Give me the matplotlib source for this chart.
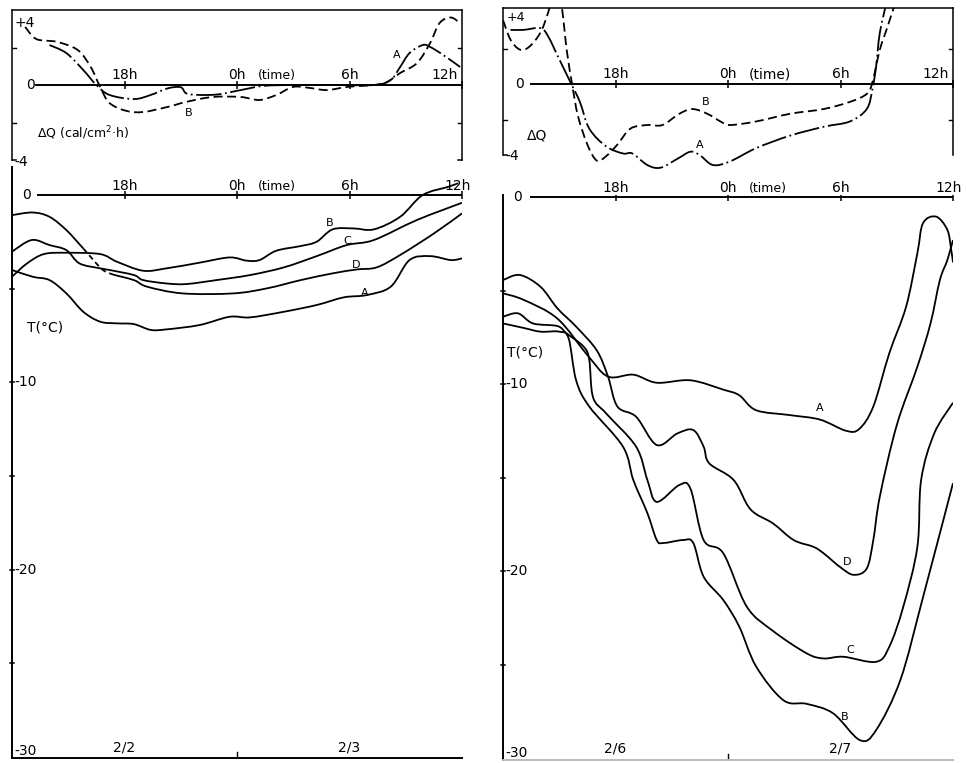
import matplotlib
matplotlib.use("Agg")
import matplotlib.pyplot as plt
from matplotlib.path import Path
from matplotlib.patches import PathPatch
import numpy as np

plt.rcParams['font.family'] = ['DejaVu Sans']

W, H = 967, 763
# ---------------- data (time in hours from 12h of first day, 24h later = 36) -------------
# Upper left: heat balance dQ (cal/cm2 h), 2/2-2/3
ql_A_t = [14.0, 14.9, 15.8, 16.5, 17.2, 18.5, 19.4, 20.3, 21.0, 21.3, 22.0, 23.0, 24.2, 25.4, 27.0, 29.0, 31.3, 32.2, 32.7, 33.2, 33.9, 34.3, 35.0, 35.9]
ql_A_q = [2.13, 1.7, 0.8, 0.0, -0.53, -0.75, -0.53, -0.18, -0.12, -0.45, -0.53, -0.5, -0.27, -0.05, 0.0, 0.0, 0.0, 0.27, 0.96, 1.7, 2.13, 2.03, 1.6, 0.96]
ql_B_t = [12.7, 13.3, 14.4, 15.5, 16.2, 16.7, 17.2, 18.1, 19.0, 20.3, 21.3, 22.7, 24.2, 25.2, 26.1, 27.0, 27.9, 28.8, 29.9, 31.3, 32.0, 32.7, 33.6, 34.3, 34.8, 35.4, 35.9]
ql_B_q = [3.1, 2.45, 2.3, 1.87, 0.96, -0.1, -0.96, -1.38, -1.44, -1.17, -0.9, -0.64, -0.64, -0.8, -0.53, -0.1, -0.16, -0.27, -0.1, 0.0, 0.16, 0.64, 1.17, 2.24, 3.3, 3.6, 3.3]

# Upper right: dQ, 2/6-2/7
qr_A_t = [12.4, 13.1, 14.0, 14.4, 15.0, 15.6, 16.1, 16.6, 17.5, 18.4, 18.9, 19.7, 20.4, 21.3, 22.0, 22.5, 23.2, 24.1, 25.5, 27.3, 29.1, 30.5, 31.4, 31.7, 31.9, 32.1, 32.5]
qr_A_q = [3.05, 3.05, 3.15, 2.7, 1.4, 0.1, -1.0, -2.5, -3.5, -3.9, -3.9, -4.55, -4.7, -4.2, -3.8, -4.0, -4.55, -4.35, -3.6, -2.9, -2.4, -2.1, -1.4, -0.3, 1.0, 2.9, 4.8]
qr_B_t = [12.0, 12.4, 12.9, 13.4, 14.0, 14.4, 14.7, 15.1, 15.4, 15.7, 16.0, 16.5, 17.0, 17.5, 18.1, 18.8, 19.7, 20.5, 21.4, 22.1, 22.9, 23.6, 24.1, 25.5, 27.3, 29.1, 30.5, 31.4, 31.7, 32.1, 32.5, 32.9]
qr_B_q = [3.6, 2.5, 1.94, 2.1, 2.9, 4.0, 5.0, 4.5, 1.9, -0.1, -1.8, -3.4, -4.3, -4.05, -3.4, -2.5, -2.3, -2.3, -1.67, -1.4, -1.67, -2.1, -2.3, -2.1, -1.67, -1.4, -1.0, -0.55, 0.1, 1.94, 3.2, 4.5]

# Lower left: temperatures T (deg C), 2/2-2/3
tl_t_A = [12.0, 13.1, 14.0, 14.9, 15.8, 16.7, 17.6, 18.5, 19.4, 20.25, 22.0, 23.6, 24.7, 26.5, 28.25, 29.7, 30.9, 32.2, 33.2, 34.3, 35.4, 36.0]
tl_A = [-4.0, -4.36, -4.54, -5.25, -6.23, -6.76, -6.85, -6.89, -7.2, -7.17, -6.94, -6.5, -6.53, -6.23, -5.87, -5.46, -5.34, -4.89, -3.47, -3.26, -3.47, -3.38]
tl_t_B = [12.0, 12.8, 13.7, 14.9, 16.7, 17.6, 19.0, 20.25, 22.0, 23.6, 24.5, 25.2, 26.1, 27.4, 28.25, 29.1, 30.2, 31.3, 32.7, 33.9, 35.3, 35.8]
tl_B = [-4.36, -3.65, -3.15, -3.08, -3.15, -3.56, -4.04, -3.91, -3.61, -3.33, -3.5, -3.47, -2.97, -2.72, -2.49, -1.83, -1.78, -1.83, -1.16, 0.0, 0.45, 0.64]
tl_t_C = [12.0, 13.05, 14.0, 14.9, 15.6, 16.7, 17.2, 18.5, 19.0, 20.25, 21.3, 22.9, 24.7, 26.5, 28.25, 29.85, 31.3, 33.6, 36.0]
tl_C = [-3.02, -2.4, -2.67, -2.94, -3.65, -3.91, -4.0, -4.27, -4.54, -4.72, -4.75, -4.54, -4.27, -3.86, -3.26, -2.67, -2.4, -1.33, -0.41]
tl_t_D = [12.0, 13.1, 14.0, 14.9, 15.8, 16.7, 17.2, 18.5, 19.2, 21.1, 23.8, 25.6, 27.4, 29.1, 30.4, 31.45, 32.7, 34.5, 36.0]
tl_D = [-1.07, -0.93, -1.16, -1.87, -2.85, -3.86, -4.18, -4.54, -4.89, -5.25, -5.25, -4.98, -4.54, -4.18, -3.97, -3.86, -3.2, -2.05, -0.98]

# Lower right: temperatures T (deg C), 2/6-2/7
tr_t_A = [12.0, 13.1, 14.9, 16.5, 17.6, 18.95, 20.2, 22.0, 23.75, 24.6, 25.5, 27.3, 28.9, 30.3, 31.0, 31.75, 32.6, 33.5, 34.1, 34.4, 35.1, 35.7, 35.9, 36.0]
tr_A = [-5.15, -5.5, -6.5, -8.45, -9.6, -9.5, -9.93, -9.8, -10.3, -10.6, -11.4, -11.66, -11.9, -12.5, -12.4, -11.2, -8.36, -5.86, -3.0, -1.4, -1.05, -1.76, -2.8, -3.5]
tr_t_B = [12.0, 13.1, 14.0, 15.0, 15.5, 15.9, 16.6, 18.4, 18.95, 19.7, 20.2, 20.55, 21.6, 22.15, 22.7, 23.75, 24.6, 25.5, 26.95, 28.2, 29.6, 31.04, 31.9, 33.2, 34.4, 36.0]
tr_B = [-6.76, -7.0, -7.2, -7.2, -7.56, -9.8, -11.2, -13.35, -15.13, -16.9, -18.34, -18.5, -18.34, -18.5, -20.3, -21.55, -22.97, -25.1, -26.9, -27.1, -27.6, -29.04, -28.5, -25.8, -21.4, -15.3]
tr_t_C = [12.0, 12.8, 13.6, 14.9, 15.4, 16.3, 16.6, 16.8, 17.5, 19.1, 19.7, 20.2, 21.4, 22.0, 22.7, 23.75, 25.0, 26.4, 28.2, 29.1, 30.15, 31.9, 32.6, 33.35, 34.1, 34.3, 35.0, 36.0]
tr_C = [-6.4, -6.22, -6.76, -6.9, -7.3, -8.0, -8.7, -10.7, -11.57, -13.35, -15.13, -16.3, -15.4, -15.6, -18.34, -19.05, -21.9, -23.2, -24.4, -24.67, -24.58, -24.85, -24.05, -21.9, -18.7, -15.13, -12.64, -11.0]
tr_t_D = [12.0, 12.9, 14.0, 14.9, 15.9, 17.0, 17.6, 18.1, 19.1, 20.2, 21.3, 22.15, 22.7, 23.0, 24.3, 25.2, 26.4, 27.5, 28.55, 29.1, 30.0, 30.7, 31.4, 31.75, 32.1, 33.0, 34.1, 34.8, 35.3, 35.7, 36.0]
tr_D = [-4.44, -4.17, -4.8, -5.95, -6.93, -8.2, -9.6, -11.2, -11.75, -13.26, -12.64, -12.46, -13.35, -14.24, -15.13, -16.7, -17.45, -18.34, -18.7, -19.05, -19.8, -20.2, -19.86, -18.34, -16.0, -12.2, -9.07, -6.76, -4.44, -3.37, -2.3]

hour_ticks = [18, 24, 30, 36]
dates_left = ["2/2", "2/3"]
dates_right = ["2/6", "2/7"]

# ---------------- figure ----------------
fig = plt.figure(figsize=(W / 100, H / 100), dpi=100)
fig.patch.set_facecolor("white")

def make_ax(x0, y0, w, h):
    return fig.add_axes([x0 / W, 1 - (y0 + h) / H, w / W, h / H])

LW = 1.3
STYLE_A = (0, (14, 2, 1, 2))
STYLE_B = (0, (5, 2.5))
FS = 10
FSL = 8


def bezier_segments(xs, ys):
    """Catmull-Rom curve through the given points, as cubic Bezier segments."""
    p = np.column_stack([xs, ys]).astype(float)
    n = len(p)
    segs = []
    for i in range(n - 1):
        p0 = p[i - 1] if i > 0 else p[i]
        p1, p2 = p[i], p[i + 1]
        p3 = p[i + 2] if i + 2 < n else p[i + 1]
        c1 = p1 + (p2 - p0) / 6.0
        c2 = p2 - (p3 - p1) / 6.0
        segs.append((p1, c1, c2, p2))
    return segs


def smooth(ax, xs, ys, ls='-', start=0, stop=None, **kw):
    segs = bezier_segments(xs, ys)[start:stop]
    verts = [segs[0][0]]
    codes = [Path.MOVETO]
    for s in segs:
        verts += [s[1], s[2], s[3]]
        codes += [Path.CURVE4] * 3
    patch = PathPatch(Path(verts, codes), fill=False, edgecolor='k', lw=LW,
                      linestyle=ls, capstyle='butt', joinstyle='round', **kw)
    ax.add_patch(patch)


def common(ax, ylim):
    ax.set_xlim(12, 36)
    ax.set_ylim(*ylim)
    ax.set_xticks([])
    ax.set_yticks([])
    ax.patch.set_alpha(0)

# ---- upper left ----
axq1 = make_ax(12, 10, 450, 150)
common(axq1, (-4, 4))
axq1.spines['bottom'].set_visible(False)
for s in ['top', 'left', 'right']:
    axq1.spines[s].set_linewidth(1.1)
axq1.plot([13.3, 36], [0, 0], color='k', lw=1.4)
axq1.plot(hour_ticks, [0] * 4, 'k|', ms=6, mew=1.1)
axq1.plot([12, 12.2], [-4, -4], color='k', lw=1.1, clip_on=False)
axq1.plot([35.8, 36], [-4, -4], color='k', lw=1.1, clip_on=False)
for y in (2, -2):
    axq1.plot([12, 12.2], [y, y], color='k', lw=1)
    axq1.plot([35.8, 36], [y, y], color='k', lw=1)
smooth(axq1, ql_A_t, ql_A_q, ls=STYLE_A)
smooth(axq1, ql_B_t, ql_B_q, ls=STYLE_B)
axq1.text(12.15, 3.3, "+4", fontsize=FS, ha='left', va='center')
axq1.text(13.0, 0, "0", fontsize=FS, ha='center', va='center')
axq1.text(12.15, -4.1, "-4", fontsize=FS, ha='left', va='center', clip_on=False)
axq1.text(18, 0.15, "18h", fontsize=FS, ha='center', va='bottom')
axq1.text(24, 0.15, "0h", fontsize=FS, ha='center', va='bottom')
axq1.text(25.1, 0.15, "(time)", fontsize=FS - 1, ha='left', va='bottom')
axq1.text(30, 0.15, "6h", fontsize=FS, ha='center', va='bottom')
axq1.text(35.05, 0.15, "12h", fontsize=FS, ha='center', va='bottom')
axq1.text(32.5, 1.6, "A", fontsize=FSL, ha='center', va='center')
axq1.text(21.4, -1.5, "B", fontsize=FSL, ha='center', va='center')
axq1.text(13.33, -2.56, "ΔQ (cal/cm$^2$·h)", fontsize=FS - 1, ha='left', va='center')

# ---- upper right ----
axq2 = make_ax(503, 8, 450, 167)
common(axq2, (-5.11, 4.28))
axq2.spines['bottom'].set_visible(False)
axq2.spines['left'].set_bounds(-4, 4.28)
axq2.spines['right'].set_bounds(-4, 4.28)
for s in ['top', 'left', 'right']:
    axq2.spines[s].set_linewidth(1.1)
axq2.plot([13.5, 36], [0, 0], color='k', lw=1.4)
axq2.plot(hour_ticks, [0] * 4, 'k|', ms=6, mew=1.1)
for y in (2, -2):
    axq2.plot([12, 12.2], [y, y], color='k', lw=1)
    axq2.plot([35.8, 36], [y, y], color='k', lw=1)
axq2.plot([12, 12.2], [-4, -4], color='k', lw=1.1)
smooth(axq2, qr_A_t, qr_A_q, ls=STYLE_A)
smooth(axq2, qr_B_t, qr_B_q, ls=STYLE_B)
axq2.text(12.2, 3.72, "+4", fontsize=FS - 1, ha='left', va='center')
axq2.text(12.9, 0, "0", fontsize=FS, ha='center', va='center')
axq2.text(12.15, -4.05, "-4", fontsize=FS, ha='left', va='center')
axq2.text(18, 0.15, "18h", fontsize=FS, ha='center', va='bottom')
axq2.text(24, 0.15, "0h", fontsize=FS, ha='center', va='bottom')
axq2.text(25.1, 0.15, "(time)", fontsize=FS, ha='left', va='bottom')
axq2.text(30, 0.15, "6h", fontsize=FS, ha='center', va='bottom')
axq2.text(35.1, 0.15, "12h", fontsize=FS, ha='center', va='bottom')
axq2.text(22.8, -1.0, "B", fontsize=FSL, ha='center', va='center')
axq2.text(22.5, -3.44, "A", fontsize=FSL, ha='center', va='center')
axq2.text(13.28, -2.9, "ΔQ", fontsize=FS, ha='left', va='center')

# ---- lower panels ----
def lower(ax, dates, zero_start, ylim):
    common(ax, ylim)
    ax.spines['top'].set_visible(False)
    ax.spines['right'].set_visible(False)
    ax.spines['left'].set_linewidth(1.4)
    ax.spines['bottom'].set_linewidth(1.4)
    ax.plot([zero_start, 36], [0, 0], color='k', lw=1.4)
    ax.plot(hour_ticks, [0] * 4, 'k|', ms=6, mew=1.1)
    for y in (-5, -10, -15, -20, -25):
        ax.plot([11.9, 12.12], [y, y], color='k', lw=1.1, clip_on=False)
    ax.text(12.75, 0, "0", fontsize=FS, ha='center', va='center')
    for y in (-10, -20, -30):
        ax.text(12.12, y + (0.3 if y == -30 else 0), f"-{abs(y)}", fontsize=FS, ha='left', va='center')
    ax.text(18, 0.12, "18h", fontsize=FS, ha='center', va='bottom')
    ax.text(24, 0.12, "0h", fontsize=FS, ha='center', va='bottom')
    ax.text(25.1, 0.12, "(time)", fontsize=FS - 1, ha='left', va='bottom')
    ax.text(30, 0.12, "6h", fontsize=FS, ha='center', va='bottom')
    ax.text(35.75, 0.12, "12h", fontsize=FS, ha='center', va='bottom')
    ax.text(18, -29.5, dates[0], fontsize=FS, ha='center', va='center')
    ax.text(30, -29.5, dates[1], fontsize=FS, ha='center', va='center')
    ax.plot([24, 24], [ylim[0], ylim[0] + 0.3], color='k', lw=1)

axt1 = make_ax(12, 167, 450, 591)
lower(axt1, dates_left, 13.4, (-30.06, 1.5))
smooth(axt1, tl_t_A, tl_A)
smooth(axt1, tl_t_B, tl_B)
smooth(axt1, tl_t_C, tl_C)
smooth(axt1, tl_t_D, tl_D, stop=4)
smooth(axt1, tl_t_D, tl_D, ls=(0, (3, 2)), start=4, stop=6)
smooth(axt1, tl_t_D, tl_D, start=6)
axt1.text(28.96, -1.5, "B", fontsize=FSL, ha='center', va='center')
axt1.text(29.87, -2.46, "C", fontsize=FSL, ha='center', va='center')
axt1.text(30.35, -3.74, "D", fontsize=FSL, ha='center', va='center')
axt1.text(30.83, -5.23, "A", fontsize=FSL, ha='center', va='center')
axt1.text(12.8, -7.05, "T(°C)", fontsize=FS, ha='left', va='center')

axt2 = make_ax(503, 195, 450, 565)
lower(axt2, dates_right, 13.5, (-30.1, 0.107))
axt2.spines['bottom'].set_color('#bbbbbb')
smooth(axt2, tr_t_A, tr_A)
smooth(axt2, tr_t_B, tr_B)
smooth(axt2, tr_t_C, tr_C)
smooth(axt2, tr_t_D, tr_D)
axt2.text(28.9, -11.3, "A", fontsize=FSL, ha='center', va='center')
axt2.text(30.35, -19.5, "D", fontsize=FSL, ha='center', va='center')
axt2.text(30.5, -24.2, "C", fontsize=FSL, ha='center', va='center')
axt2.text(30.2, -27.8, "B", fontsize=FSL, ha='center', va='center')
axt2.text(12.2, -8.34, "T(°C)", fontsize=FS, ha='left', va='center')

fig.savefig("out.png", dpi=100)
